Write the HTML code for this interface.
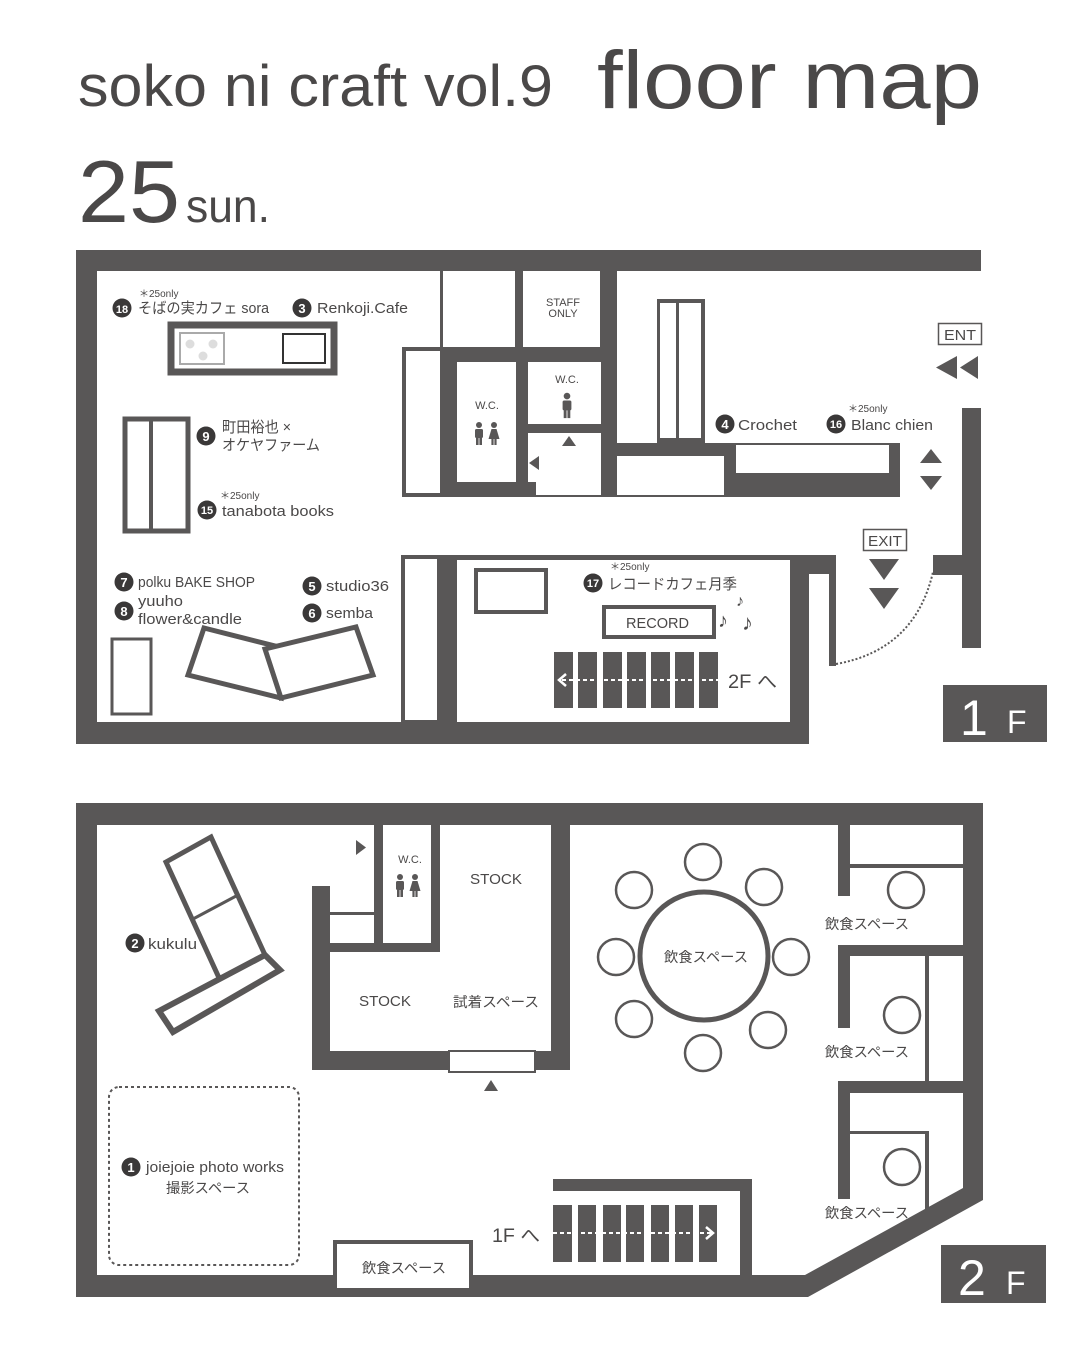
<!DOCTYPE html>
<html><head><meta charset="utf-8"><style>
html,body{margin:0;padding:0;background:#fff;}
svg{display:block;}
text{font-family:"Liberation Sans","Noto Sans CJK JP",sans-serif;fill:#4a4848;}
</style></head><body>
<svg width="1080" height="1350" viewBox="0 0 1080 1350" xmlns="http://www.w3.org/2000/svg">
<defs>
<g id="male"><circle cx="0" cy="-9" r="3"/><rect x="-4" y="-5" width="8" height="9" rx="1.5"/><rect x="-3" y="3" width="2.6" height="8"/><rect x="0.4" y="3" width="2.6" height="8"/></g>
<g id="female"><circle cx="0" cy="-9" r="3"/><polygon points="-2.5,-5 2.5,-5 5.5,5 -5.5,5"/><rect x="-2.6" y="4" width="2.2" height="7"/><rect x="0.4" y="4" width="2.2" height="7"/></g>
</defs>
<!-- Title -->
<text x="78" y="106" font-size="58" textLength="475" lengthAdjust="spacingAndGlyphs" fill="#555">soko ni craft vol.9</text>
<text x="597" y="108" font-size="82" textLength="385" lengthAdjust="spacingAndGlyphs" fill="#555">floor map</text>
<text x="78" y="222" font-size="88" textLength="102" lengthAdjust="spacingAndGlyphs" fill="#555">25</text>
<text x="186" y="222" font-size="46" textLength="84" lengthAdjust="spacingAndGlyphs" fill="#555">sun.</text>

<g fill="#595757">
<!-- 1F walls -->
<rect x="76" y="250" width="905" height="21"/>
<rect x="76" y="250" width="21" height="494"/>
<rect x="76" y="722" width="733" height="22"/>
<rect x="790" y="555" width="19" height="189"/>
<rect x="790" y="555" width="46" height="19"/>
<rect x="829" y="555" width="7" height="111"/>
<rect x="962" y="408" width="19" height="240"/>
<rect x="933" y="555" width="29" height="20"/>
<!-- record room -->
<rect x="437" y="555" width="353" height="5"/>
<rect x="437" y="555" width="20" height="170"/>
<rect x="401" y="555" width="38" height="168"/>
<!-- central block -->
<rect x="440" y="271" width="3" height="80"/>
<rect x="515" y="271" width="8" height="80"/>
<rect x="600" y="271" width="17" height="226"/>
<rect x="402" y="347" width="215" height="150"/>
<rect x="617" y="443" width="283" height="54"/>
<rect x="657" y="299" width="48" height="146"/>
</g>
<g fill="#fff">
<rect x="406" y="351" width="34" height="142"/>
<rect x="457" y="362" width="59" height="120"/>
<rect x="528" y="362" width="73" height="62"/>
<rect x="536" y="433" width="65" height="62"/>
<rect x="528" y="433" width="10" height="49"/>
<rect x="617" y="456" width="107" height="39"/>
<rect x="736" y="445" width="153" height="28"/>
<rect x="660" y="303" width="16" height="135"/>
<rect x="679" y="303" width="22" height="135"/>
<rect x="405" y="559" width="32" height="161"/>
<rect x="457" y="560" width="333" height="162"/>
</g>
<!-- 1F furniture -->
<rect x="171" y="325" width="163" height="47" fill="#fff" stroke="#595757" stroke-width="7"/>
<rect x="180" y="333" width="44" height="31" fill="#fff" stroke="#aaa" stroke-width="2"/>
<circle cx="190" cy="344" r="4.5" fill="#ddd"/><circle cx="213" cy="344" r="4.5" fill="#ddd"/><circle cx="203" cy="356" r="4.5" fill="#ddd"/>
<rect x="283" y="334" width="42" height="29" fill="#fff" stroke="#333" stroke-width="2"/>
<rect x="125" y="419" width="63" height="112" fill="#fff" stroke="#595757" stroke-width="5"/>
<rect x="149" y="419" width="4" height="112" fill="#595757"/>
<rect x="112" y="639" width="39" height="75" fill="#fff" stroke="#595757" stroke-width="3"/>
<polygon points="204,628 279,647 281,698 188,675" fill="#fff" stroke="#595757" stroke-width="5"/>
<polygon points="265,649 356,627 373,675 281,698" fill="#fff" stroke="#595757" stroke-width="5"/>
<rect x="476" y="570" width="70" height="42" fill="#fff" stroke="#595757" stroke-width="4"/>
<rect x="604" y="607" width="110" height="30" fill="#fff" stroke="#595757" stroke-width="4"/>
<text x="626" y="628" font-size="15" textLength="63" lengthAdjust="spacingAndGlyphs">RECORD</text>
<text x="736" y="606" font-size="16">♪</text>
<text x="718" y="627" font-size="20">♪</text>
<text x="742" y="630" font-size="22">♪</text>
<!-- stairs 1F -->
<g fill="#595757">
<rect x="554" y="652" width="19" height="56"/><rect x="578" y="652" width="19" height="56"/><rect x="603" y="652" width="19" height="56"/><rect x="627" y="652" width="19" height="56"/><rect x="651" y="652" width="19" height="56"/><rect x="675" y="652" width="19" height="56"/><rect x="699" y="652" width="19" height="56"/>
</g>
<line x1="562" y1="680" x2="718" y2="680" stroke="#fff" stroke-width="2" stroke-dasharray="4,3"/>
<polyline points="566,674 559,680 566,686" fill="none" stroke="#fff" stroke-width="2.5"/>
<text x="728" y="688" font-size="19" textLength="49" lengthAdjust="spacingAndGlyphs">2F へ</text>
<!-- door arc -->
<path d="M836,664 Q915,650 933,572" fill="none" stroke="#595757" stroke-width="2" stroke-dasharray="2,2"/>
<!-- ENT / EXIT -->
<rect x="938.5" y="323.5" width="43" height="21" fill="#fff" stroke="#595757" stroke-width="1.5"/>
<text x="944" y="340" font-size="15" textLength="32" lengthAdjust="spacingAndGlyphs">ENT</text>
<polygon points="957,356 957,379 936,367.5" fill="#595757"/><polygon points="978,356 978,379 960,367.5" fill="#595757"/>
<polygon points="931,449 942,463 920,463" fill="#595757"/><polygon points="920,476 942,476 931,490" fill="#595757"/>
<rect x="863.5" y="529.5" width="43" height="21" fill="#fff" stroke="#595757" stroke-width="1.5"/>
<text x="868" y="546" font-size="15" textLength="34" lengthAdjust="spacingAndGlyphs">EXIT</text>
<polygon points="869,559 899,559 884,580" fill="#595757"/><polygon points="869,588 899,588 884,609" fill="#595757"/>
<!-- WC -->
<text x="487" y="409" font-size="11" text-anchor="middle">W.C.</text>
<g fill="#595757" transform="translate(479,434)"><use href="#male"/></g>
<g fill="#595757" transform="translate(494,434)"><use href="#female"/></g>
<text x="567" y="383" font-size="11" text-anchor="middle">W.C.</text>
<g fill="#595757" transform="translate(567,406) scale(1.1)"><use href="#male"/></g>
<polygon points="569,436 576,446 562,446" fill="#595757"/>
<polygon points="529,463 539,456 539,470" fill="#595757"/>
<text x="563" y="306" font-size="11" text-anchor="middle">STAFF</text>
<text x="563" y="317" font-size="11" text-anchor="middle">ONLY</text>
<!-- 1F labels -->
<g font-size="10"><text x="139" y="297">＊25only</text><text x="220" y="499">＊25only</text><text x="848" y="412">＊25only</text><text x="610" y="570">＊25only</text></g>
<g fill="#3a3838">
<circle cx="122" cy="308" r="9.5"/><circle cx="302" cy="308" r="9.5"/><circle cx="206" cy="436" r="9.5"/><circle cx="207" cy="510" r="9.5"/><circle cx="124" cy="582" r="9.5"/><circle cx="124" cy="611" r="9.5"/><circle cx="312" cy="586" r="9.5"/><circle cx="312" cy="613" r="9.5"/><circle cx="725" cy="424" r="9.5"/><circle cx="836" cy="424" r="9.5"/><circle cx="593" cy="583" r="9.5"/><circle cx="135" cy="943" r="9.5"/><circle cx="131" cy="1167" r="9.5"/>
</g>
<g font-size="13" font-weight="bold" text-anchor="middle" style="fill:#fff">
<text x="122" y="313" font-size="11" style="fill:#fff">18</text><text x="302" y="313" style="fill:#fff">3</text><text x="206" y="441" style="fill:#fff">9</text><text x="207" y="514" font-size="11" style="fill:#fff">15</text><text x="124" y="587" style="fill:#fff">7</text><text x="124" y="616" style="fill:#fff">8</text><text x="312" y="591" style="fill:#fff">5</text><text x="312" y="618" style="fill:#fff">6</text><text x="725" y="429" style="fill:#fff">4</text><text x="836" y="428" font-size="11" style="fill:#fff">16</text><text x="593" y="587" font-size="11" style="fill:#fff">17</text><text x="135" y="948" style="fill:#fff">2</text><text x="131" y="1172" style="fill:#fff">1</text>
</g>
<g font-size="15">
<text x="138" y="313" textLength="131" lengthAdjust="spacingAndGlyphs">そばの実カフェ sora</text>
<text x="317" y="313" textLength="91" lengthAdjust="spacingAndGlyphs">Renkoji.Cafe</text>
<text x="222" y="432" textLength="69" lengthAdjust="spacingAndGlyphs">町田裕也 ×</text>
<text x="222" y="450" textLength="98" lengthAdjust="spacingAndGlyphs">オケヤファーム</text>
<text x="222" y="516" textLength="112" lengthAdjust="spacingAndGlyphs">tanabota books</text>
<text x="138" y="587" textLength="117" lengthAdjust="spacingAndGlyphs">polku BAKE SHOP</text>
<text x="138" y="606" textLength="45" lengthAdjust="spacingAndGlyphs">yuuho</text>
<text x="138" y="624" textLength="104" lengthAdjust="spacingAndGlyphs">flower&amp;candle</text>
<text x="326" y="591" textLength="63" lengthAdjust="spacingAndGlyphs">studio36</text>
<text x="326" y="618" textLength="47" lengthAdjust="spacingAndGlyphs">semba</text>
<text x="738" y="430" textLength="59" lengthAdjust="spacingAndGlyphs">Crochet</text>
<text x="851" y="430" textLength="82" lengthAdjust="spacingAndGlyphs">Blanc chien</text>
<text x="608" y="589" textLength="129" lengthAdjust="spacingAndGlyphs">レコードカフェ月季</text>
</g>
<!-- 1F label -->
<rect x="943" y="685" width="104" height="57" fill="#595757"/>
<text x="960" y="735" font-size="50" style="fill:#fff">1</text>
<text x="1007" y="733" font-size="32" style="fill:#fff">F</text>

<!-- 2F walls -->
<path d="M76,803 H983 V1200 L808,1297 H76 Z M97,825 V1275 H805 L963,1188 V825 Z" fill="#595757" fill-rule="evenodd"/>
<g fill="#595757">
<rect x="551" y="825" width="19" height="245"/>
<rect x="312" y="886" width="18" height="184"/>
<rect x="312" y="1051" width="137" height="19"/>
<rect x="535" y="1051" width="35" height="19"/>
<rect x="374" y="825" width="9" height="127"/>
<rect x="431" y="825" width="9" height="127"/>
<rect x="330" y="943" width="110" height="9"/>
<rect x="330" y="912" width="44" height="3"/>
<rect x="838" y="825" width="12" height="71"/>
<rect x="850" y="864" width="113" height="4"/>
<rect x="838" y="945" width="125" height="11"/>
<rect x="838" y="945" width="12" height="83"/>
<rect x="925" y="956" width="4" height="125"/>
<rect x="838" y="1081" width="125" height="12"/>
<rect x="838" y="1081" width="12" height="118"/>
<rect x="850" y="1131" width="79" height="3"/>
<rect x="925" y="1131" width="4" height="78"/>
<rect x="553" y="1179" width="199" height="12"/>
<rect x="740" y="1179" width="12" height="96"/>
</g>
<rect x="449" y="1051" width="86" height="21" fill="#fff" stroke="#595757" stroke-width="2"/>
<polygon points="491,1080 498,1091 484,1091" fill="#595757"/>
<polygon points="356,840 366,847.5 356,855" fill="#595757"/>
<text x="410" y="863" font-size="11" text-anchor="middle">W.C.</text>
<g fill="#595757" transform="translate(400,886)"><use href="#male"/></g>
<g fill="#595757" transform="translate(415,886)"><use href="#female"/></g>
<!-- sofa -->
<polygon points="166,862 211,837 265,955 220,980" fill="#fff" stroke="#595757" stroke-width="5"/>
<line x1="193" y1="919" x2="238" y2="895" stroke="#595757" stroke-width="3"/>
<polygon points="159,1011 265,955 280,970 173,1032" fill="#fff" stroke="#595757" stroke-width="6"/>
<!-- photo space -->
<rect x="109" y="1087" width="190" height="178" rx="10" fill="none" stroke="#595757" stroke-width="2" stroke-dasharray="3,3"/>
<!-- round table -->
<circle cx="704" cy="956" r="64" fill="#fff" stroke="#595757" stroke-width="5"/>
<g fill="#fff" stroke="#595757" stroke-width="2.5">
<circle cx="703" cy="862" r="18"/><circle cx="764" cy="887" r="18"/><circle cx="791" cy="957" r="18"/><circle cx="768" cy="1030" r="18"/><circle cx="703" cy="1053" r="18"/><circle cx="634" cy="1019" r="18"/><circle cx="616" cy="957" r="18"/><circle cx="634" cy="890" r="18"/>
<circle cx="906" cy="890" r="18"/><circle cx="902" cy="1015" r="18"/><circle cx="902" cy="1167" r="18"/>
</g>
<!-- stairs 2F -->
<g fill="#595757">
<rect x="553" y="1205" width="19" height="57"/><rect x="578" y="1205" width="18" height="57"/><rect x="603" y="1205" width="18" height="57"/><rect x="626" y="1205" width="18" height="57"/><rect x="651" y="1205" width="18" height="57"/><rect x="675" y="1205" width="18" height="57"/><rect x="699" y="1205" width="18" height="57"/>
</g>
<line x1="553" y1="1233" x2="712" y2="1233" stroke="#fff" stroke-width="2" stroke-dasharray="4,3"/>
<polyline points="706,1227 713,1233 706,1239" fill="none" stroke="#fff" stroke-width="2.5"/>
<text x="492" y="1242" font-size="19" textLength="48" lengthAdjust="spacingAndGlyphs">1F へ</text>
<rect x="335" y="1242" width="136" height="48" fill="#fff" stroke="#595757" stroke-width="4"/>
<!-- 2F labels -->
<g font-size="14">
<text x="470" y="884" font-size="15" textLength="52" lengthAdjust="spacingAndGlyphs">STOCK</text>
<text x="359" y="1006" font-size="15" textLength="52" lengthAdjust="spacingAndGlyphs">STOCK</text>
<text x="453" y="1007" textLength="86" lengthAdjust="spacingAndGlyphs">試着スペース</text>
<text x="664" y="962" textLength="84" lengthAdjust="spacingAndGlyphs">飲食スペース</text>
<text x="825" y="929" textLength="84" lengthAdjust="spacingAndGlyphs">飲食スペース</text>
<text x="825" y="1057" textLength="84" lengthAdjust="spacingAndGlyphs">飲食スペース</text>
<text x="825" y="1218" textLength="84" lengthAdjust="spacingAndGlyphs">飲食スペース</text>
<text x="362" y="1273" textLength="84" lengthAdjust="spacingAndGlyphs">飲食スペース</text>
<text x="148" y="949" font-size="15" textLength="49" lengthAdjust="spacingAndGlyphs">kukulu</text>
<text x="146" y="1172" font-size="15" textLength="138" lengthAdjust="spacingAndGlyphs">joiejoie photo works</text>
<text x="166" y="1193" textLength="84" lengthAdjust="spacingAndGlyphs">撮影スペース</text>
</g>
<rect x="941" y="1245" width="105" height="58" fill="#595757"/>
<text x="958" y="1295" font-size="50" style="fill:#fff">2</text>
<text x="1006" y="1294" font-size="32" style="fill:#fff">F</text>
</svg>
</body></html>
